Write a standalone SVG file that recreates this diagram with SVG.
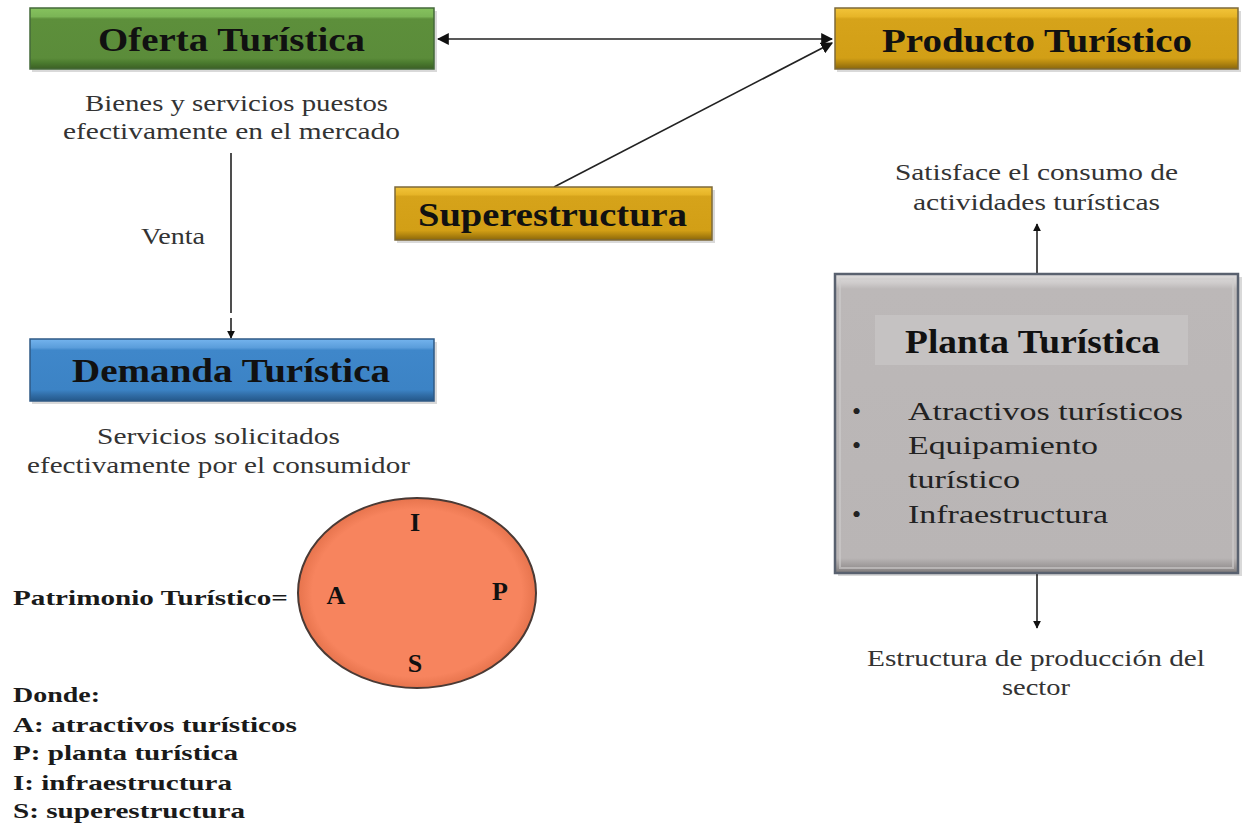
<svg xmlns="http://www.w3.org/2000/svg" width="1242" height="827" viewBox="0 0 1242 827">
<style>
.title{font-family:'Liberation Serif','Times New Roman',serif;font-weight:bold;fill:#111;font-size:34px}
.desc{font-family:'Liberation Serif','Times New Roman',serif;font-size:24px;fill:#333}
.bold{font-family:'Liberation Serif','Times New Roman',serif;font-weight:bold;fill:#1a1a1a;font-size:22px}
.list{font-family:'Liberation Serif','Times New Roman',serif;font-size:26px;fill:#222}
.letter{font-family:'Liberation Serif','Times New Roman',serif;font-weight:bold;fill:#111;font-size:26px;text-anchor:middle}
.conn{stroke:#222;stroke-width:1.6;fill:none}
.shadow{fill:#000;opacity:0.15}
</style>
<defs>
<marker id="ah" viewBox="0 0 10 10" refX="9" refY="5" markerWidth="8" markerHeight="8" orient="auto-start-reverse" markerUnits="userSpaceOnUse">
<path d="M0,0 L10,5 L0,10 z" fill="#111"/>
</marker>
<marker id="ahs" viewBox="0 0 10 10" refX="9" refY="5" markerWidth="12" markerHeight="12" orient="auto-start-reverse" markerUnits="userSpaceOnUse">
<path d="M0,0 L10,5 L0,10 z" fill="#111"/>
</marker>
<linearGradient id="gGreen" x1="0" y1="0" x2="0" y2="1">
<stop offset="0" stop-color="#86c25e"/><stop offset="0.14" stop-color="#7bb556"/><stop offset="0.18" stop-color="#5d8f3b"/><stop offset="0.82" stop-color="#5b8c3a"/><stop offset="0.9" stop-color="#4a7a2e"/><stop offset="1" stop-color="#3b5f25"/>
</linearGradient>
<linearGradient id="gGold" x1="0" y1="0" x2="0" y2="1">
<stop offset="0" stop-color="#f2c43a"/><stop offset="0.14" stop-color="#e7b528"/><stop offset="0.18" stop-color="#d6a31a"/><stop offset="0.82" stop-color="#d29f16"/><stop offset="0.9" stop-color="#b4870f"/><stop offset="1" stop-color="#8a670c"/>
</linearGradient>
<linearGradient id="gBlue" x1="0" y1="0" x2="0" y2="1">
<stop offset="0" stop-color="#74b4ee"/><stop offset="0.14" stop-color="#5a9ddb"/><stop offset="0.18" stop-color="#3f87ca"/><stop offset="0.82" stop-color="#3c83c5"/><stop offset="0.9" stop-color="#316ea8"/><stop offset="1" stop-color="#245789"/>
</linearGradient>
<linearGradient id="gGray" x1="0" y1="0" x2="0" y2="1">
<stop offset="0" stop-color="#dedcdc"/><stop offset="0.03" stop-color="#cfcccc"/><stop offset="0.05" stop-color="#bcb8b8"/><stop offset="0.95" stop-color="#b9b5b5"/><stop offset="0.98" stop-color="#9a9696"/><stop offset="1" stop-color="#7e7a7a"/>
</linearGradient>
<radialGradient id="ellg" cx="0.5" cy="0.5" r="0.55">
<stop offset="0.8" stop-color="#f7845e"/>
<stop offset="1" stop-color="#d9663f"/>
</radialGradient>
</defs>
<rect width="1242" height="827" fill="#fff"/>

<g id="connectors">
<line class="conn" x1="438" y1="39" x2="832" y2="39" marker-start="url(#ahs)" marker-end="url(#ahs)"/>
<line class="conn" x1="554" y1="187" x2="832" y2="43" marker-end="url(#ahs)"/>
<line class="conn" x1="231" y1="153" x2="231" y2="313"/>
<line class="conn" x1="231" y1="318" x2="231" y2="338" marker-end="url(#ah)"/>
<line class="conn" x1="1037" y1="274" x2="1037" y2="224" marker-end="url(#ah)" stroke-width="2"/>
<line class="conn" x1="1037" y1="573" x2="1037" y2="628" marker-end="url(#ah)" stroke-width="2"/>
<text class="desc" x="141" y="244" textLength="64" lengthAdjust="spacingAndGlyphs">Venta</text>
</g>

<g id="oferta">
<rect class="shadow" x="32" y="11" width="405" height="61"/>
<rect x="30" y="8" width="404" height="61" fill="url(#gGreen)" stroke="#44693a" stroke-width="1.5"/>
<text class="title" x="98" y="51" textLength="267" lengthAdjust="spacingAndGlyphs">Oferta Turística</text>
<text class="desc" x="85" y="111" textLength="303" lengthAdjust="spacingAndGlyphs">Bienes y servicios puestos</text>
<text class="desc" x="63" y="139" textLength="337" lengthAdjust="spacingAndGlyphs">efectivamente en el mercado</text>
</g>

<g id="producto">
<rect class="shadow" x="837" y="11" width="404" height="61"/>
<rect x="835" y="8" width="403" height="61" fill="url(#gGold)" stroke="#7d6a3a" stroke-width="1.5"/>
<text class="title" x="882" y="52" textLength="310" lengthAdjust="spacingAndGlyphs">Producto Turístico</text>
</g>

<g id="superestructura">
<rect class="shadow" x="397" y="190" width="318" height="53"/>
<rect x="395" y="187" width="317" height="53" fill="url(#gGold)" stroke="#7d6a3a" stroke-width="1.5"/>
<text class="title" x="418" y="226" textLength="269" lengthAdjust="spacingAndGlyphs">Superestructura</text>
</g>

<g id="demanda">
<rect class="shadow" x="32" y="342" width="405" height="62"/>
<rect x="30" y="339" width="404" height="62" fill="url(#gBlue)" stroke="#2f5a85" stroke-width="1.5"/>
<text class="title" x="72" y="382" textLength="318" lengthAdjust="spacingAndGlyphs">Demanda Turística</text>
<text class="desc" x="97" y="444" textLength="243" lengthAdjust="spacingAndGlyphs">Servicios solicitados</text>
<text class="desc" x="27" y="473" textLength="383" lengthAdjust="spacingAndGlyphs">efectivamente por el consumidor</text>
</g>

<g id="planta">
<rect class="shadow" x="838" y="277" width="404" height="299"/>
<rect x="835" y="274" width="403" height="299" fill="url(#gGray)" stroke="#59616f" stroke-width="2.5"/>
<rect x="840" y="279" width="393" height="289" fill="none" stroke="#cfcdcd" stroke-width="2" opacity="0.6"/>
<rect x="875" y="315" width="313" height="50" fill="#c5c2c2"/>
<text class="title" x="905" y="353" textLength="255" lengthAdjust="spacingAndGlyphs">Planta Turística</text>
<text class="list" x="852" y="420">•</text>
<text class="list" x="908" y="420" textLength="275" lengthAdjust="spacingAndGlyphs">Atractivos turísticos</text>
<text class="list" x="852" y="454">•</text>
<text class="list" x="908" y="454" textLength="190" lengthAdjust="spacingAndGlyphs">Equipamiento</text>
<text class="list" x="908" y="488" textLength="112" lengthAdjust="spacingAndGlyphs">turístico</text>
<text class="list" x="852" y="523">•</text>
<text class="list" x="908" y="523" textLength="200" lengthAdjust="spacingAndGlyphs">Infraestructura</text>
<text class="desc" x="895" y="180" textLength="283" lengthAdjust="spacingAndGlyphs">Satisface el consumo de</text>
<text class="desc" x="913" y="210" textLength="247" lengthAdjust="spacingAndGlyphs">actividades turísticas</text>
<text class="desc" x="867" y="666" textLength="338" lengthAdjust="spacingAndGlyphs">Estructura de producción del</text>
<text class="desc" x="1002" y="695" textLength="68" lengthAdjust="spacingAndGlyphs">sector</text>
</g>

<g id="patrimonio">
<ellipse cx="417" cy="593" rx="119" ry="95" fill="url(#ellg)" stroke="#4a3a35" stroke-width="2"/>
<text class="letter" x="415" y="531">I</text>
<text class="letter" x="336" y="604">A</text>
<text class="letter" x="500" y="600">P</text>
<text class="letter" x="415" y="672">S</text>
<text class="bold" x="13" y="605" textLength="275" lengthAdjust="spacingAndGlyphs">Patrimonio Turístico=</text>
<text class="bold" x="13" y="702" textLength="87" lengthAdjust="spacingAndGlyphs">Donde:</text>
<text class="bold" x="13" y="732" textLength="284" lengthAdjust="spacingAndGlyphs">A: atractivos turísticos</text>
<text class="bold" x="13" y="760" textLength="225" lengthAdjust="spacingAndGlyphs">P: planta turística</text>
<text class="bold" x="13" y="790" textLength="219" lengthAdjust="spacingAndGlyphs">I: infraestructura</text>
<text class="bold" x="13" y="818" textLength="232" lengthAdjust="spacingAndGlyphs">S: superestructura</text>
</g>
</svg>
